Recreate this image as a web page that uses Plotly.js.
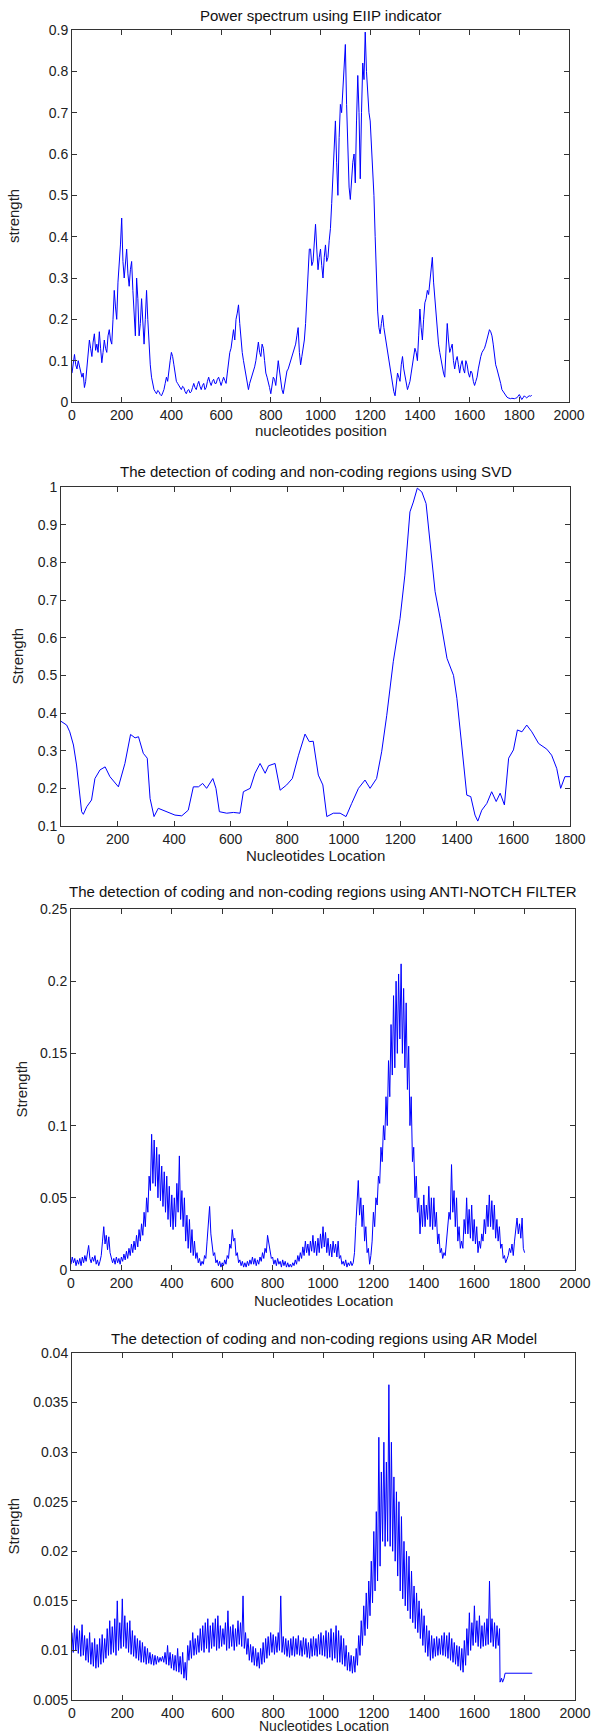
<!DOCTYPE html>
<html>
<head>
<meta charset="utf-8">
<script src="https://cdn.plot.ly/plotly-3.0.1.min.js"></script>
<style>html,body{margin:0;padding:0;background:#fff;}#chart{width:591px;height:1734px;}</style>
</head>
<body>
<div id="chart"></div>
<script>
// ---------- DATA ----------
// Plot 1: Power spectrum using EIIP indicator, sampled every 5 nucleotides from 0
const eiipStep = 5;
const eiipStrength = [
0.07,0.1,0.115,0.09,0.08,0.1,0.085,0.075,0.06,0.07,0.035,0.05,0.09,0.11,0.15,0.13,0.11,0.145,0.165,0.125,0.14,
0.12,0.17,0.13,0.095,0.12,0.15,0.13,0.12,0.16,0.175,0.15,0.14,0.2,0.27,0.23,0.2,0.29,0.33,0.38,0.445,
0.34,0.3,0.35,0.37,0.31,0.28,0.32,0.34,0.27,0.2,0.16,0.3,0.25,0.16,0.19,0.25,0.19,0.14,0.2,0.27,
0.2,0.13,0.09,0.06,0.04,0.03,0.025,0.02,0.028,0.025,0.018,0.015,0.022,0.03,0.045,0.06,0.05,0.08,0.1,0.12,
0.11,0.09,0.07,0.05,0.045,0.04,0.035,0.03,0.038,0.035,0.025,0.02,0.028,0.03,0.022,0.025,0.035,0.045,0.035,0.03,
0.042,0.05,0.038,0.03,0.04,0.045,0.03,0.035,0.05,0.06,0.048,0.04,0.05,0.055,0.045,0.045,0.055,0.06,0.05,0.04,
0.05,0.06,0.052,0.045,0.07,0.1,0.12,0.13,0.16,0.175,0.15,0.2,0.215,0.235,0.19,0.15,0.12,0.1,0.08,0.06,
0.045,0.03,0.045,0.055,0.065,0.07,0.085,0.1,0.125,0.145,0.12,0.11,0.14,0.13,0.1,0.07,0.06,0.05,0.035,0.02,
0.04,0.06,0.055,0.04,0.07,0.1,0.075,0.05,0.03,0.02,0.04,0.06,0.075,0.08,0.09,0.1,0.11,0.12,0.13,0.14,
0.16,0.18,0.12,0.09,0.11,0.13,0.15,0.19,0.26,0.33,0.37,0.37,0.33,0.34,0.38,0.43,0.37,0.32,0.35,0.37,
0.33,0.3,0.35,0.38,0.34,0.35,0.39,0.42,0.48,0.55,0.62,0.68,0.58,0.5,0.64,0.72,0.7,0.76,0.8,0.865,
0.72,0.6,0.52,0.49,0.55,0.58,0.6,0.53,0.68,0.79,0.7,0.54,0.7,0.82,0.78,0.895,0.8,0.75,0.7,0.68,
0.62,0.57,0.5,0.4,0.3,0.22,0.18,0.165,0.19,0.21,0.18,0.16,0.15,0.12,0.1,0.08,0.06,0.04,0.025,0.015,
0.04,0.07,0.06,0.05,0.09,0.11,0.08,0.06,0.045,0.03,0.04,0.05,0.07,0.09,0.11,0.13,0.12,0.1,0.16,0.225,
0.18,0.15,0.2,0.24,0.25,0.27,0.26,0.29,0.32,0.35,0.29,0.25,0.22,0.18,0.14,0.12,0.1,0.09,0.07,0.06,
0.12,0.19,0.15,0.12,0.13,0.14,0.1,0.08,0.1,0.11,0.09,0.07,0.09,0.1,0.08,0.07,0.1,0.09,0.07,0.06,
0.075,0.07,0.05,0.04,0.05,0.06,0.08,0.1,0.11,0.12,0.125,0.13,0.14,0.15,0.165,0.175,0.17,0.16,0.14,0.11,
0.09,0.08,0.07,0.06,0.045,0.03,0.025,0.02,0.015,0.012,0.01,0.008,0.008,0.009,0.008,0.008,0.009,0.01,0.014,0.018,
0.012,0.006,0.01,0.015,0.012,0.01,0.013,0.015,0.014,0.016
];

// Plot 2: SVD
const svdLocation = [0,20,31,44,55,65,73,79,91,108,120,138,156,173,203,226,246,262,274,291,305,315,329,344,374,403,427,450,468,486,501,515,537,548,560,586,610,633,645,669,686,704,722,734,757,775,798,818,840,863,878,892,910,926,940,963,987,1008,1028,1052,1075,1093,1116,1134,1152,1175,1199,1216,1234,1246,1260,1276,1291,1305,1323,1341,1365,1388,1400,1417,1435,1449,1464,1474,1488,1506,1523,1539,1553,1568,1583,1600,1614,1630,1647,1665,1689,1718,1735,1753,1767,1782,1800];
const svdStrength = [0.378,0.368,0.35,0.315,0.262,0.19,0.138,0.131,0.151,0.169,0.226,0.249,0.257,0.231,0.204,0.266,0.343,0.334,0.337,0.293,0.28,0.173,0.125,0.147,0.138,0.129,0.127,0.142,0.204,0.204,0.213,0.2,0.226,0.2,0.138,0.134,0.136,0.134,0.191,0.2,0.24,0.266,0.24,0.26,0.266,0.195,0.209,0.226,0.288,0.344,0.324,0.325,0.235,0.209,0.125,0.134,0.134,0.125,0.16,0.2,0.222,0.2,0.226,0.297,0.394,0.536,0.651,0.766,0.934,0.96,0.997,0.987,0.956,0.845,0.722,0.651,0.545,0.5,0.439,0.315,0.182,0.178,0.129,0.113,0.142,0.16,0.191,0.165,0.187,0.156,0.28,0.302,0.355,0.35,0.368,0.35,0.319,0.304,0.288,0.253,0.2,0.231,0.231];

// Plot 3: ANTI-NOTCH FILTER, sampled every 5 nucleotides from 0
const notchStep = 5;
const notchStrength = [
0.004,0.009,0.005,0.008,0.003,0.007,0.004,0.008,0.003,0.009,0.005,0.01,0.006,0.012,0.017,0.008,0.005,0.009,0.006,0.01,0.004,
0.007,0.003,0.006,0.01,0.02,0.03,0.018,0.024,0.014,0.023,0.012,0.008,0.005,0.008,0.004,0.009,0.005,0.008,0.004,0.009,
0.006,0.011,0.007,0.013,0.008,0.015,0.01,0.018,0.012,0.02,0.014,0.024,0.016,0.028,0.02,0.032,0.024,0.04,0.03,0.05,
0.04,0.065,0.055,0.094,0.06,0.09,0.058,0.085,0.05,0.08,0.048,0.072,0.044,0.068,0.04,0.065,0.035,0.058,0.03,0.052,
0.028,0.05,0.03,0.06,0.04,0.079,0.035,0.055,0.03,0.05,0.02,0.038,0.015,0.035,0.012,0.028,0.01,0.02,0.008,0.012,
0.005,0.008,0.003,0.006,0.004,0.01,0.008,0.02,0.03,0.044,0.025,0.016,0.01,0.012,0.005,0.007,0.003,0.006,0.002,0.005,
0.003,0.007,0.004,0.01,0.008,0.018,0.015,0.028,0.02,0.022,0.01,0.012,0.005,0.007,0.003,0.006,0.002,0.005,0.002,0.006,
0.003,0.007,0.004,0.009,0.004,0.008,0.003,0.007,0.004,0.009,0.006,0.012,0.008,0.015,0.012,0.024,0.018,0.014,0.008,0.009,
0.004,0.007,0.003,0.008,0.004,0.006,0.002,0.007,0.003,0.006,0.002,0.005,0.002,0.004,0.002,0.005,0.003,0.007,0.004,0.01,
0.006,0.012,0.008,0.016,0.01,0.02,0.012,0.018,0.01,0.02,0.013,0.024,0.012,0.02,0.01,0.022,0.012,0.025,0.015,0.03,
0.016,0.026,0.012,0.022,0.01,0.018,0.009,0.02,0.012,0.018,0.009,0.02,0.008,0.01,0.004,0.006,0.003,0.007,0.002,0.005,
0.003,0.006,0.003,0.005,0.012,0.03,0.045,0.062,0.038,0.05,0.03,0.045,0.02,0.03,0.012,0.015,0.004,0.01,0.02,0.04,
0.03,0.05,0.045,0.065,0.06,0.085,0.075,0.1,0.09,0.12,0.1,0.145,0.12,0.17,0.135,0.19,0.14,0.2,0.15,0.205,
0.16,0.212,0.15,0.195,0.14,0.185,0.125,0.155,0.1,0.12,0.075,0.085,0.05,0.065,0.04,0.05,0.025,0.045,0.03,0.052,
0.03,0.045,0.035,0.058,0.03,0.05,0.028,0.05,0.03,0.04,0.018,0.025,0.012,0.015,0.008,0.012,0.01,0.02,0.025,0.04,
0.035,0.073,0.04,0.055,0.03,0.05,0.02,0.03,0.015,0.02,0.015,0.035,0.025,0.05,0.025,0.042,0.022,0.045,0.02,0.035,
0.018,0.03,0.012,0.02,0.015,0.025,0.02,0.035,0.025,0.045,0.03,0.052,0.03,0.048,0.028,0.045,0.022,0.035,0.02,0.03,
0.015,0.018,0.008,0.01,0.005,0.008,0.01,0.015,0.012,0.018,0.01,0.02,0.03,0.036,0.025,0.032,0.022,0.036,0.015,0.012
];

// Plot 4: AR Model, sampled every 5 nucleotides from 0 to 1700, then a flat tail
const arStep = 5;
const arStrength = [
0.0118,0.0098,0.0125,0.01,0.0122,0.0097,0.012,0.0094,0.0126,0.0095,0.0115,0.009,0.0112,0.0088,0.0118,0.0086,0.0108,0.0084,0.0112,0.0082,0.0106,
0.0083,0.0112,0.0086,0.0116,0.0088,0.0112,0.0092,0.0122,0.0095,0.013,0.0096,0.0124,0.0098,0.0132,0.0095,0.015,0.01,0.0128,0.0102,0.0152,
0.0104,0.0135,0.0102,0.0128,0.0098,0.013,0.0096,0.012,0.0094,0.0115,0.0092,0.0112,0.009,0.011,0.0088,0.0108,0.0088,0.0104,0.0086,0.0102,
0.0087,0.0098,0.0086,0.0096,0.0085,0.0095,0.0086,0.0094,0.0088,0.0093,0.0089,0.0094,0.0088,0.0098,0.0086,0.0105,0.0085,0.0098,0.0082,0.0096,
0.008,0.0095,0.0079,0.0102,0.0078,0.0094,0.0076,0.0098,0.0072,0.0088,0.007,0.0105,0.009,0.011,0.0092,0.0118,0.0095,0.0112,0.0096,0.0115,
0.0098,0.0122,0.01,0.0125,0.0098,0.0128,0.0102,0.0132,0.0098,0.0125,0.0102,0.0128,0.0104,0.0132,0.01,0.0135,0.0102,0.0125,0.0104,0.0122,
0.0106,0.0128,0.01,0.014,0.0102,0.0124,0.0104,0.0126,0.01,0.0122,0.0104,0.013,0.0106,0.0128,0.0104,0.0155,0.0102,0.0118,0.0096,0.0112,
0.009,0.0106,0.0088,0.0104,0.0085,0.0102,0.0084,0.0098,0.0082,0.0102,0.0086,0.0108,0.0088,0.0112,0.0092,0.0114,0.0095,0.0118,0.0098,0.0116,
0.0096,0.0114,0.0098,0.0118,0.01,0.0155,0.0098,0.0114,0.0096,0.0112,0.0094,0.011,0.0093,0.0112,0.0095,0.0114,0.0094,0.0112,0.0096,0.0115,
0.0095,0.011,0.0094,0.0113,0.0096,0.0112,0.0093,0.0108,0.0092,0.0112,0.0094,0.0114,0.0095,0.0112,0.0094,0.0116,0.0096,0.0118,0.0095,0.0115,
0.0094,0.012,0.0092,0.0118,0.0093,0.0122,0.009,0.0118,0.0092,0.0125,0.0088,0.012,0.0088,0.0115,0.0086,0.0112,0.0084,0.0105,0.008,0.0098,
0.0079,0.0095,0.0077,0.0094,0.0078,0.0102,0.0085,0.0115,0.0095,0.013,0.0105,0.0145,0.0115,0.0158,0.0122,0.017,0.0135,0.019,0.0148,0.022,
0.016,0.024,0.017,0.0315,0.0185,0.028,0.021,0.031,0.0205,0.029,0.021,0.0368,0.0205,0.031,0.02,0.0275,0.019,0.026,0.0175,0.025,
0.016,0.0235,0.0152,0.021,0.0145,0.02,0.014,0.0195,0.0132,0.018,0.0128,0.0165,0.0122,0.0158,0.0118,0.015,0.0112,0.0142,0.0105,0.0135,
0.0098,0.0125,0.0094,0.012,0.009,0.0115,0.0092,0.0112,0.0094,0.0114,0.0095,0.0112,0.0096,0.0115,0.0095,0.0118,0.0094,0.0115,0.0092,0.0118,
0.009,0.0112,0.0088,0.0108,0.0086,0.0105,0.0084,0.0104,0.008,0.0102,0.0078,0.011,0.0085,0.0122,0.0095,0.0138,0.01,0.0128,0.0105,0.0145,
0.0108,0.013,0.0104,0.0135,0.0102,0.0125,0.0104,0.0128,0.0105,0.0132,0.0106,0.017,0.0108,0.0132,0.0104,0.0128,0.0102,0.0125,0.0105,0.0122
];
const arTailLocation = [1700,1702,1708,1712,1718,1722,1830];
const arTailStrength = [0.0122,0.0068,0.0072,0.0068,0.0072,0.0077,0.0077];

// Tick labels
const xTicks2000 = [0,200,400,600,800,1000,1200,1400,1600,1800,2000];
const xTicks1800 = [0,200,400,600,800,1000,1200,1400,1600,1800];
const yTicks1 = [0,0.1,0.2,0.3,0.4,0.5,0.6,0.7,0.8,0.9];
const yTicks2 = [0.1,0.2,0.3,0.4,0.5,0.6,0.7,0.8,0.9,1];
const yTicks3 = [0,0.05,0.1,0.15,0.2,0.25];
const yTicks4 = [0.005,0.01,0.015,0.02,0.025,0.03,0.035,0.04];

const titles = [
  "Power spectrum using EIIP indicator",
  "The detection of coding and non-coding regions using SVD",
  "The detection of coding and non-coding regions using ANTI-NOTCH FILTER",
  "The detection of coding and non-coding regions using AR Model"
];
const xLabels = ["nucleotides position","Nucleotides Location","Nucleotides Location","Nucleotides Location"];
const yLabels = ["strength","Strength","Strength","Strength"];

// ---------- BUILD ----------
const W = 591, H = 1734;
const seq = (n, step) => Array.from({length:n}, (_, i) => i*step);

// pixel boxes [left, right, top, bottom]
const boxes = [[72,569,30,402],[61,570,487,826],[71,575,909,1270],[72,575,1353,1700]];
const titleY = [15,471,892,1338];
const xlabY = [431,855,1300,1726];
const xlabSize = [15,15,15,14];
const ylabX = [13,17,21,13];

const blue = '#0000ff';
const traces = [
  {x: seq(eiipStrength.length, eiipStep), y: eiipStrength, xaxis:'x', yaxis:'y'},
  {x: svdLocation, y: svdStrength, xaxis:'x2', yaxis:'y2'},
  {x: seq(notchStrength.length, notchStep), y: notchStrength, xaxis:'x3', yaxis:'y3'},
  {x: seq(arStrength.length, arStep), y: arStrength, xaxis:'x4', yaxis:'y4'},
  {x: arTailLocation, y: arTailStrength, xaxis:'x4', yaxis:'y4'}
].map(t => Object.assign(t, {type:'scatter', mode:'lines', line:{color:blue, width:1}, hoverinfo:'skip'}));

const font = {family:'Liberation Sans, Arial, Helvetica, sans-serif', size:14, color:'#1a1a1a'};
const axisBase = {
  showline:true, linecolor:'#333', linewidth:1, mirror:'ticks', ticks:'inside', ticklen:5,
  tickcolor:'#333', tickwidth:1, showgrid:false, zeroline:false, fixedrange:true,
  ticklabeloverflow:'allow',
  tickfont:{family:font.family, size:14, color:'#222'}
};
const xRanges = [[0,2000],[0,1800],[0,2000],[0,2000]];
const yRanges = [[0,0.9],[0.1,1],[0,0.25],[0.005,0.04]];
const xTickSets = [xTicks2000, xTicks1800, xTicks2000, xTicks2000];
const yTickSets = [yTicks1, yTicks2, yTicks3, yTicks4];

const layout = {
  width:W, height:H, margin:{l:0,r:0,t:0,b:0}, paper_bgcolor:'#fff', plot_bgcolor:'#fff',
  showlegend:false, font:font, annotations:[]
};
boxes.forEach((b, i) => {
  const s = i === 0 ? '' : String(i+1);
  layout['xaxis'+s] = Object.assign({}, axisBase, {
    domain:[b[0]/W, b[1]/W], range:xRanges[i], tickvals:xTickSets[i], ticktext:xTickSets[i].map(String),
    anchor:'y'+s
  });
  layout['yaxis'+s] = Object.assign({}, axisBase, {
    domain:[1-b[3]/H, 1-b[2]/H], range:yRanges[i], tickvals:yTickSets[i], ticktext:yTickSets[i].map(String),
    anchor:'x'+s
  });
  const cx = (b[0]+b[1])/2/W;
  layout.annotations.push({text:titles[i], xref:'paper', yref:'paper', x:cx, y:1-titleY[i]/H,
    xanchor:'center', yanchor:'middle', showarrow:false, font:{family:font.family, size:15, color:'#111'}});
  layout.annotations.push({text:xLabels[i], xref:'paper', yref:'paper', x:cx, y:1-xlabY[i]/H,
    xanchor:'center', yanchor:'middle', showarrow:false, font:{family:font.family, size:xlabSize[i], color:'#222'}});
  layout.annotations.push({text:yLabels[i], xref:'paper', yref:'paper', x:ylabX[i]/W, y:1-(b[2]+b[3])/2/H,
    xanchor:'center', yanchor:'middle', textangle:-90, showarrow:false, font:{family:font.family, size:15, color:'#222'}});
});

Plotly.newPlot('chart', traces, layout, {staticPlot:true, displayModeBar:false});
</script>
</body>
</html>
